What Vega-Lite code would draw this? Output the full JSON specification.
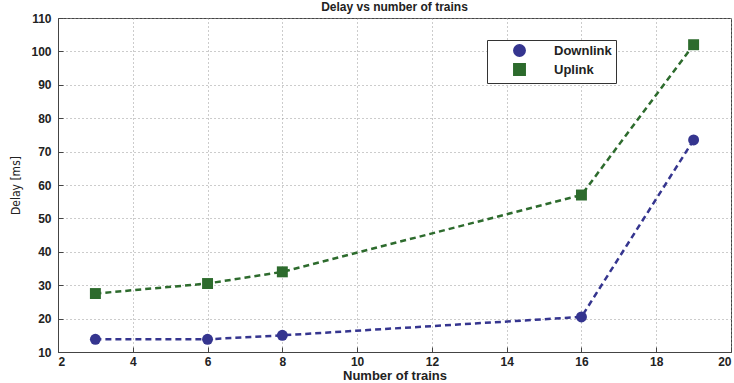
{
  "$schema": "https://vega.github.io/schema/vega-lite/v6.json",
  "autosize": "none",
  "width": 673,
  "height": 334,
  "padding": {"left": 58, "top": 18, "right": 3, "bottom": 31},
  "background": "white",
  "title": {"text": "Delay vs number of trains", "font": "Liberation Sans", "fontSize": 12, "fontWeight": "bold", "color": "#222", "offset": 0, "dy": 2},
  "config": {
    "view": {"stroke": "#444", "strokeWidth": 1},
    "axis": {
      "labelFont": "Liberation Sans", "labelFontSize": 12, "labelFontWeight": "bold", "labelColor": "#222",
      "gridColor": "#999", "gridDash": [1, 3], "gridWidth": 1,
      "domainColor": "#444", "tickColor": "#444", "tickSize": -5
    }
  },
  "data": {"values": [
    {"trains": 3, "delay": 13.8, "link": "Downlink"},
    {"trains": 6, "delay": 13.8, "link": "Downlink"},
    {"trains": 8, "delay": 15.0, "link": "Downlink"},
    {"trains": 16, "delay": 20.5, "link": "Downlink"},
    {"trains": 19, "delay": 73.5, "link": "Downlink"},
    {"trains": 3, "delay": 27.5, "link": "Uplink"},
    {"trains": 6, "delay": 30.5, "link": "Uplink"},
    {"trains": 8, "delay": 34.0, "link": "Uplink"},
    {"trains": 16, "delay": 57.0, "link": "Uplink"},
    {"trains": 19, "delay": 102.0, "link": "Uplink"}
  ]},
  "encoding": {
    "x": {"field": "trains", "type": "quantitative",
      "scale": {"domain": [2, 20], "nice": false},
      "axis": {"values": [2,4,6,8,10,12,14,16,18,20], "labelPadding": 9, "title": "Number of trains", "titleFont": "Liberation Sans", "titleFontSize": 13, "titleFontWeight": "bold", "titleColor": "#222", "titlePadding": 2}},
    "y": {"field": "delay", "type": "quantitative",
      "scale": {"domain": [10, 110], "nice": false},
      "axis": {"values": [10,20,30,40,50,60,70,80,90,100,110], "labelPadding": 12, "title": "Delay [ms]", "titleFont": "DejaVu Sans Condensed", "titleFontSize": 12, "titleFontWeight": "normal", "titleColor": "#222", "titlePadding": 8}},
    "color": {"field": "link", "type": "nominal",
      "scale": {"domain": ["Downlink", "Uplink"], "range": ["#35358f", "#2d6b2d"]},
      "legend": {"title": null, "orient": "none", "legendX": 429, "legendY": 22,
        "strokeColor": "#333", "fillColor": "white", "padding": 4,
        "labelFont": "Liberation Sans", "labelFontSize": 13, "labelFontWeight": "bold", "labelColor": "#222",
        "symbolSize": 130, "symbolOffset": 22, "labelOffset": 28, "rowPadding": 0}},
    "shape": {"field": "link", "type": "nominal", "scale": {"domain": ["Downlink", "Uplink"], "range": ["circle", "square"]}}
  },
  "layer": [
    {"mark": {"type": "line", "strokeDash": [6, 4], "strokeWidth": 2.5}},
    {"mark": {"type": "point", "filled": true, "size": 120, "opacity": 1}}
  ]
}
